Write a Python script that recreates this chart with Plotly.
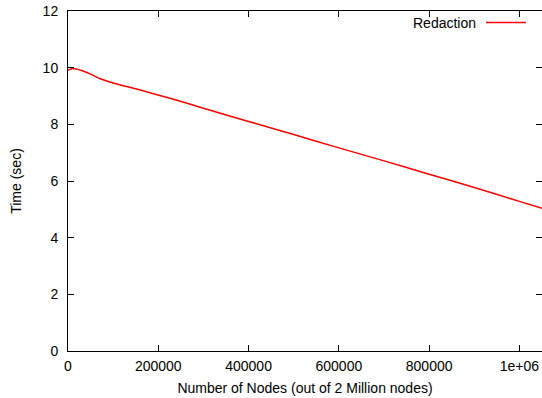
import plotly.graph_objects as go

nodes = [0, 10000, 30000, 50000, 70000, 100000, 160000, 230000, 300000, 400000,
         500000, 600000, 700000, 800000, 900000, 1000000, 1050000]
time_sec = [9.91, 9.97, 9.90, 9.77, 9.62, 9.46, 9.21, 8.90, 8.57, 8.10,
            7.64, 7.17, 6.71, 6.24, 5.77, 5.28, 5.04]
series_name = "Redaction"
x_ticks = [0, 200000, 400000, 600000, 800000, 1000000]
x_tick_text = ["0", "200000", "400000", "600000", "800000", "1e+06"]
y_ticks = [0, 2, 4, 6, 8, 10, 12]

FONT = "Liberation Sans, Arial, Helvetica, sans-serif"

fig = go.Figure()
fig.add_trace(go.Scatter(x=nodes, y=time_sec, mode="lines", name=series_name,
                         line=dict(color="#ff0000", width=1.5, shape="spline", smoothing=0.6),
                         showlegend=False))

axis_common = dict(showgrid=False, zeroline=False, showline=True, linecolor="black",
                   linewidth=1, mirror="ticks", ticks="inside", ticklen=6,
                   tickcolor="black", tickwidth=1, automargin=False,
                   tickfont=dict(family=FONT, size=14, color="black"))

fig.update_xaxes(range=[0, 1050000], tickvals=x_ticks, ticktext=x_tick_text,
                 title=dict(text="Number of Nodes (out of 2 Million nodes)",
                            font=dict(family=FONT, size=14, color="black"), standoff=10),
                 ticklabelstandoff=2, **axis_common)
fig.update_yaxes(range=[0, 12], tickvals=y_ticks,
                 title=dict(text="Time (sec)",
                            font=dict(family=FONT, size=14, color="black"), standoff=17),
                 ticklabelstandoff=6, **axis_common)

# gnuplot-style key: text then line sample
fig.add_annotation(xref="paper", yref="paper", x=0.864, y=0.964, text=series_name,
                   showarrow=False, xanchor="right", yanchor="middle",
                   font=dict(family=FONT, size=14, color="black"))
fig.add_shape(type="line", xref="paper", yref="paper", x0=0.882, x1=0.966,
              y0=0.966, y1=0.966, line=dict(color="#ff0000", width=1.5))

fig.update_layout(width=542, height=398, margin=dict(l=68, r=0, t=11, b=47),
                  paper_bgcolor="white", plot_bgcolor="white",
                  font=dict(family=FONT, size=14, color="black"))

fig.write_html("out.html", config={"displayModeBar": False},
               post_script="document.body.style.margin='0';document.body.style.overflow='hidden';")
